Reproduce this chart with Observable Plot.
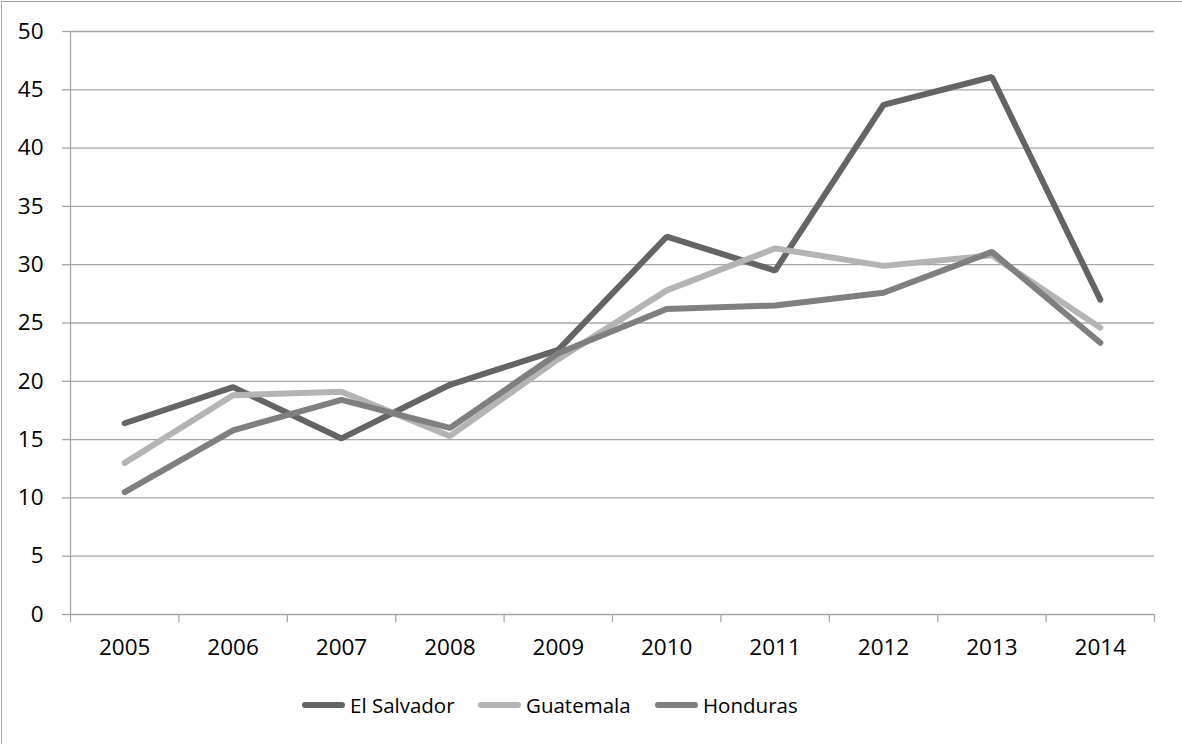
<!DOCTYPE html>
<html>
<head>
<meta charset="utf-8">
<script src="https://cdn.jsdelivr.net/npm/d3@7"></script>
<script src="https://cdn.jsdelivr.net/npm/@observablehq/plot@0.6"></script>
<style>
  html, body { margin: 0; padding: 0; background: #fff; }
  #frame { position: absolute; left: 1px; top: 1px; width: 1181px; height: 743px;
           border-left: 1px solid #a6a6a6; border-top: 1px solid #a6a6a6; box-sizing: border-box; }
  #chart { position: absolute; left: -2px; top: -2px; }
  #legend { position: absolute; left: 0; top: 690px; width: 1182px; height: 30px;
            font-family: "Open Sans", sans-serif; font-size: 20.5px; color: #000; }
  .item { position: absolute; top: 0; display: flex; align-items: center; height: 30px; }
  .swatch { width: 43px; height: 6px; border-radius: 3px; margin-right: 5px; }
</style>
</head>
<body>
<div id="frame"><div id="chart"></div></div>
<div id="legend"></div>
<script>
const years = [2005, 2006, 2007, 2008, 2009, 2010, 2011, 2012, 2013, 2014];
const series = ["El Salvador", "Guatemala", "Honduras"];
const elSalvador = [16.4, 19.5, 15.1, 19.7, 22.7, 32.4, 29.5, 43.7, 46.1, 27.0];
const guatemala  = [13.0, 18.8, 19.1, 15.3, 21.9, 27.8, 31.4, 29.9, 30.8, 24.6];
const honduras   = [10.5, 15.8, 18.4, 16.0, 22.4, 26.2, 26.5, 27.6, 31.1, 23.3];
const colors = ["#646464", "#b4b4b4", "#7f7f7f"];
const yTicks = [0, 5, 10, 15, 20, 25, 30, 35, 40, 45, 50];

const values = [elSalvador, guatemala, honduras];
const data = [];
series.forEach((s, si) => years.forEach((yr, i) => data.push({series: s, year: yr, value: values[si][i]})));
const bounds = d3.range(years.length + 1).map(i => years[0] - 0.5 + i);
const font = '"Open Sans", sans-serif';

const chart = Plot.plot({
  width: 1182,
  height: 672,
  marginLeft: 70,
  marginRight: 28,
  marginTop: 31,
  marginBottom: 58,
  style: {fontFamily: font, fontSize: "22.5px", color: "#000", background: "transparent"},
  x: {type: "linear", domain: [bounds[0], bounds[bounds.length - 1]]},
  y: {domain: [0, 50]},
  color: {domain: series, range: colors},
  marks: [
    Plot.gridY(yTicks.filter(d => d > 0), {stroke: "#a6a6a6", strokeOpacity: 1, strokeWidth: 1.3}),
    Plot.axisY(yTicks, {tickSize: 8, tickPadding: 19, stroke: "#a6a6a6", strokeWidth: 1.3, label: null, fill: "#000"}),
    Plot.axisX(bounds, {tickSize: 8, tickFormat: () => "", stroke: "#a6a6a6", strokeWidth: 1.3, label: null}),
    Plot.axisX(years, {tickSize: 0, tickPadding: 25, tickFormat: d => String(d), label: null, fill: "#000"}),
    Plot.ruleX([bounds[0]], {stroke: "#a6a6a6", strokeWidth: 1.3}),
    Plot.ruleY([0], {x1: bounds[0], x2: bounds[bounds.length - 1], stroke: "#a6a6a6", strokeWidth: 1.3}),
    Plot.line(data, {x: "year", y: "value", z: "series", stroke: "series", strokeWidth: 6, strokeLinejoin: "miter", strokeLinecap: "round", curve: "linear"})
  ]
});
document.getElementById("chart").appendChild(chart);

const legend = document.getElementById("legend");
const lefts = [302, 478, 655];
series.forEach((s, i) => {
  const item = document.createElement("div");
  item.className = "item";
  item.style.left = lefts[i] + "px";
  const sw = document.createElement("div");
  sw.className = "swatch";
  sw.style.background = colors[i];
  const label = document.createElement("span");
  label.textContent = s;
  item.appendChild(sw);
  item.appendChild(label);
  legend.appendChild(item);
});
</script>
</body>
</html>
